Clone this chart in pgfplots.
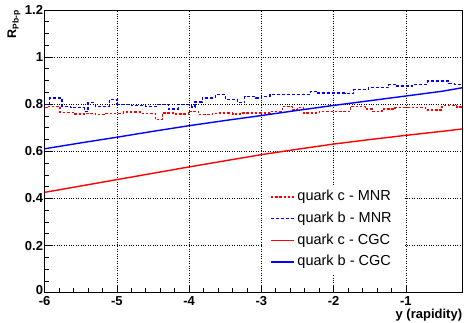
\documentclass[border=0pt]{standalone}
\usepackage{fontspec}
\setmainfont{Liberation Sans}
\usepackage{pgfplots}
\pgfplotsset{compat=1.18}
\begin{document}
\begin{tikzpicture}
\path[use as bounding box] (-44.7pt,-29.3pt) rectangle (419.3pt,292.7pt);
\begin{axis}[
 scale only axis, width=417.6pt, height=282.7pt,
 xmin=-6, xmax=-0.22, ymin=0, ymax=1.2,
 xtick={-6,-5,-4,-3,-2,-1}, xticklabels={-6,-5,-4,-3,-2,-1},
 ytick={0,0.2,0.4,0.6,0.8,1,1.2}, yticklabels={\raisebox{5.5pt}{0},0.2,0.4,0.6,0.8,1,1.2},
 minor x tick num=4, minor y tick num=3,
 tick align=inside, tick pos=left,
 major tick length=8pt, minor tick length=4.5pt,
 tick style={black, line width=0.8pt},
 grid=major, grid style={black, line width=0.5pt, dash pattern=on 0.8pt off 1.6pt},
 axis line style={line width=1pt},
 ticklabel style={font=\fontsize{13}{13}\selectfont\bfseries},
 yticklabel style={inner xsep=1.5pt},
 xlabel={y (rapidity)},
 xlabel style={font=\fontsize{13}{13}\selectfont\bfseries, at={(axis description cs:1,-0.093)}, anchor=base east, inner sep=0pt},
 ylabel={\bfseries R\raisebox{-2.5pt}{\fontsize{8.5}{8.5}\selectfont\bfseries Pb-p}},
 ylabel style={font=\fontsize{12.5}{12.5}\selectfont, at={(axis description cs:-0.0687,1)}, anchor=base east, inner sep=0pt},
 legend style={at={(axis description cs:0.520,0.381)}, anchor=north west, draw=none, fill=white,
   font=\fontsize{14.5}{17}\selectfont, inner xsep=8pt, inner ysep=4pt, row sep=6.2pt,
   nodes={inner xsep=3pt, inner ysep=0.5pt, text height=11pt, text depth=3.5pt}},
 legend cell align=left,
 legend image code/.code={\draw[#1] (0pt,0pt) -- (23pt,0pt);},
]
\addplot[const plot, color=red, line width=1.3pt, dash pattern=on 2.5pt off 1.8pt] coordinates {
(-6.00,0.785) (-5.97,0.791) (-5.79,0.765) (-5.60,0.758) (-5.45,0.762) (-5.30,0.757)
(-5.15,0.762) (-4.91,0.767) (-4.68,0.762) (-4.47,0.735) (-4.37,0.763) (-4.20,0.758)
(-4.01,0.770) (-3.87,0.756) (-3.68,0.762) (-3.60,0.763) (-3.40,0.758) (-3.27,0.763)
(-3.08,0.763) (-2.88,0.770) (-2.71,0.791) (-2.57,0.776) (-2.50,0.785) (-2.42,0.763)
(-2.20,0.770) (-1.77,0.791) (-1.56,0.780) (-1.47,0.770) (-1.33,0.780) (-1.15,0.785)
(-0.73,0.775) (-0.50,0.794) (-0.30,0.788) (-0.22,0.788)
};
\addlegendentry{quark c - MNR}
\addplot[const plot, color=blue, line width=1.3pt, dash pattern=on 3pt off 2pt] coordinates {
(-6.00,0.799) (-5.93,0.827) (-5.76,0.791) (-5.64,0.785) (-5.45,0.770) (-5.40,0.806)
(-5.30,0.791) (-5.10,0.820) (-5.00,0.800) (-4.80,0.795) (-4.60,0.791) (-4.45,0.800)
(-4.29,0.780) (-4.15,0.800) (-3.97,0.788) (-3.92,0.810) (-3.82,0.827) (-3.64,0.841)
(-3.50,0.820) (-3.33,0.806) (-3.23,0.834) (-3.08,0.827) (-3.00,0.834) (-2.88,0.841)
(-2.32,0.855) (-2.23,0.848) (-1.85,0.845) (-1.73,0.862) (-1.52,0.870) (-1.24,0.884)
(-1.15,0.877) (-0.91,0.884) (-0.70,0.898) (-0.41,0.888) (-0.33,0.884) (-0.22,0.884)
};
\addlegendentry{quark b - MNR}
\addplot[sharp plot, color=red, line width=1.4pt] coordinates {
(-6,0.426) (-5.5,0.453) (-5,0.480) (-4.5,0.507) (-4,0.534) (-3.5,0.560) (-3,0.586)
(-2.5,0.609) (-2,0.631) (-1.5,0.650) (-1,0.668) (-0.5,0.685) (-0.22,0.695)
};
\addlegendentry{quark c - CGC}
\addplot[sharp plot, color=blue, line width=1.4pt] coordinates {
(-6,0.611) (-5.5,0.636) (-5,0.660) (-4.5,0.685) (-4,0.709) (-3.5,0.731) (-3,0.752)
(-2.5,0.774) (-2,0.795) (-1.5,0.815) (-1,0.835) (-0.5,0.855) (-0.22,0.870)
};
\addlegendentry{quark b - CGC}
\end{axis}
\end{tikzpicture}
\end{document}
